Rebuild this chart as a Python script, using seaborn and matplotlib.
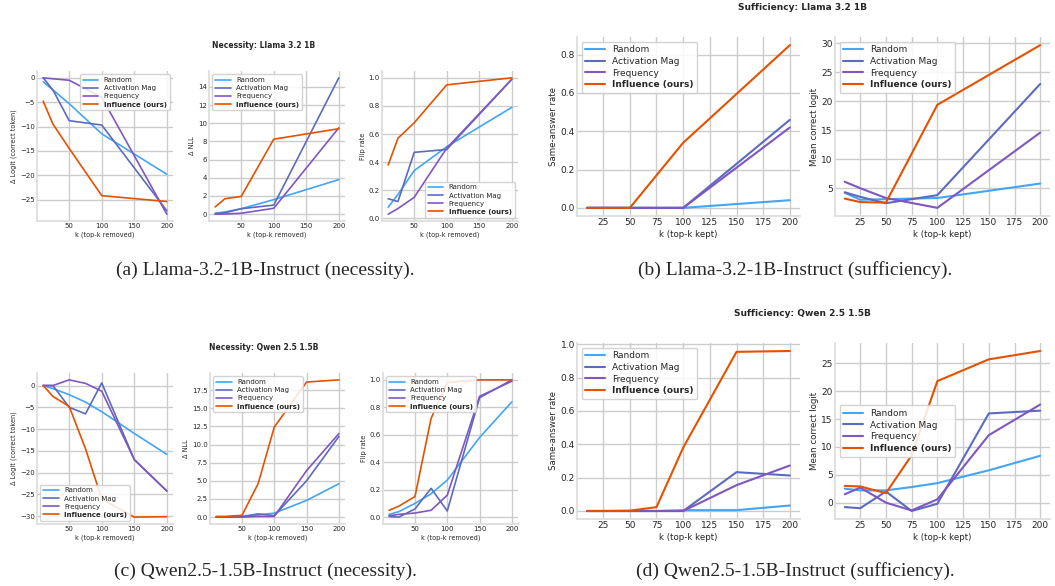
import matplotlib
matplotlib.use("Agg")
import matplotlib.pyplot as plt
import seaborn as sns

# --- data ---
methods = ["Random", "Activation Mag", "Frequency", "Influence (ours)"]
colors = ["#42a5f5", "#5c6bc0", "#7e57c2", "#e65100"]

k_llama = [10, 25, 50, 100, 200]
k_qwen = [10, 25, 50, 75, 100, 150, 200]

# Llama necessity
llama_nec_logit = [
    [-0.8, -2.5, -5.3, -11.5, -19.8],
    [0.0, -2.5, -8.8, -9.7, -27.3],
    [0.0, -0.2, -0.5, -4.0, -28.0],
    [-4.8, -9.5, -14.5, -24.2, -25.4],
]
llama_nec_nll = [
    [0.1, 0.25, 0.6, 1.6, 3.8],
    [0.05, 0.15, 0.6, 1.0, 15.0],
    [0.0, 0.02, 0.1, 0.65, 9.5],
    [0.8, 1.7, 1.95, 8.25, 9.4],
]
llama_nec_flip = [
    [0.08, 0.17, 0.34, 0.51, 0.79],
    [0.14, 0.12, 0.47, 0.49, 0.99],
    [0.03, 0.07, 0.15, 0.50, 0.99],
    [0.38, 0.57, 0.68, 0.95, 1.0],
]
# Llama sufficiency
llama_suf_same = [
    [0.0, 0.0, 0.0, 0.0, 0.04],
    [0.0, 0.0, 0.0, 0.0, 0.46],
    [0.0, 0.0, 0.0, 0.0, 0.42],
    [0.0, 0.0, 0.0, 0.34, 0.85],
]
llama_suf_logit = [
    [4.2, 3.0, 3.1, 3.3, 5.8],
    [4.3, 3.5, 2.4, 3.8, 23.0],
    [6.1, 5.0, 3.3, 1.6, 14.6],
    [3.2, 2.6, 2.5, 19.4, 29.7],
]
# Qwen necessity
qwen_nec_logit = [
    [0.0, -0.7, -2.1, -3.8, -6.0, -11.0, -15.8],
    [0.0, 0.0, -5.0, -6.5, 0.6, -17.0, -24.2],
    [0.0, 0.0, 1.3, 0.5, -1.3, -17.0, -24.2],
    [0.0, -2.5, -4.8, -14.5, -26.0, -30.2, -30.1],
]
qwen_nec_nll = [
    [0.0, 0.05, 0.15, 0.3, 0.55, 2.3, 4.6],
    [0.0, 0.0, 0.05, 0.45, 0.2, 5.0, 11.1],
    [0.0, 0.0, 0.0, 0.1, 0.1, 6.4, 11.5],
    [0.1, 0.1, 0.25, 4.6, 12.4, 18.6, 18.9],
]
qwen_nec_flip = [
    [0.02, 0.04, 0.10, 0.17, 0.27, 0.58, 0.84],
    [0.005, 0.0, 0.06, 0.21, 0.045, 0.87, 1.0],
    [0.01, 0.02, 0.03, 0.05, 0.16, 0.88, 0.99],
    [0.05, 0.08, 0.15, 0.72, 0.98, 1.0, 1.0],
]
# Qwen sufficiency
qwen_suf_same = [
    [0.0, 0.0, 0.0, 0.0, 0.005, 0.005, 0.033],
    [0.0, 0.0, 0.0, 0.0, 0.0, 0.233, 0.213],
    [0.0, 0.0, 0.0, 0.0, 0.0, 0.155, 0.273],
    [0.0, 0.0, 0.002, 0.023, 0.38, 0.955, 0.96],
]
qwen_suf_logit = [
    [2.5, 2.2, 2.2, 2.8, 3.5, 5.8, 8.4],
    [-0.8, -1.0, 2.0, -1.5, -0.2, 16.0, 16.5],
    [1.5, 2.7, 0.0, -1.4, 0.6, 12.1, 17.6],
    [3.0, 2.9, 1.7, 8.5, 21.8, 25.7, 27.2],
]

sns.set_theme(style="whitegrid")
plt.rcParams["font.family"] = ["DejaVu Sans"]

W, H = 1055, 586
fig = plt.figure(figsize=(W / 100, H / 100), dpi=100)


def ax_at(x0, y0, x1, y1):
    return fig.add_axes([x0 / W, 1 - y1 / H, (x1 - x0) / W, (y1 - y0) / H])


def panel(ax, k, series, ylabel, xlabel, loc, small=True, xticks=None, yticks=None):
    fs = 5 if small else 6.5
    lw = 1.2 if small else 1.5
    for name, col, vals in zip(methods, colors, series):
        sns.lineplot(x=k, y=vals, color=col, label=name, lw=lw, ax=ax)
    ax.set_xlabel(xlabel, fontsize=fs - 0.3, labelpad=2)
    ax.set_ylabel(ylabel, fontsize=fs - 0.3, labelpad=2)
    if xticks is not None:
        ax.set_xticks(xticks)
    if yticks is not None:
        ax.set_yticks(yticks)
    ax.tick_params(labelsize=fs, pad=1.5, length=0)
    sns.despine(ax=ax)
    for s in ["left", "bottom"]:
        ax.spines[s].set_color("#dddddd")
    leg = ax.legend(loc=loc, fontsize=fs, frameon=True, framealpha=0.85,
                    borderpad=0.4, labelspacing=0.3, handlelength=2.2)
    leg.get_texts()[-1].set_fontweight("bold")
    return ax


xl_rm = "k (top-k removed)"
xl_kp = "k (top-k kept)"
t_small = [50, 100, 150, 200]
t_big = [25, 50, 75, 100, 125, 150, 175, 200]

# (a) Llama necessity
a1 = panel(ax_at(37, 71, 173, 221), k_llama, llama_nec_logit, "Δ Logit (correct token)", xl_rm,
           "upper right", xticks=t_small)
a2 = panel(ax_at(209, 71, 345, 221), k_llama, llama_nec_nll, "Δ NLL", xl_rm,
           "upper left", xticks=t_small)
a3 = panel(ax_at(382, 71, 518, 221), k_llama, llama_nec_flip, "Flip rate", xl_rm,
           "lower right", xticks=t_small)
fig.text(264 / W, 1 - 45 / H, "Necessity: Llama 3.2 1B", ha="center", va="center",
         fontsize=5.5, fontweight="bold")

# (b) Llama sufficiency
b1 = panel(ax_at(577, 37, 800, 216), k_llama, llama_suf_same, "Same-answer rate", xl_kp,
           "upper left", small=False, xticks=t_big)
b2 = panel(ax_at(835, 37, 1050, 216), k_llama, llama_suf_logit, "Mean correct logit", xl_kp,
           "upper left", small=False, xticks=t_big)
fig.text(802 / W, 1 - 8 / H, "Sufficiency: Llama 3.2 1B", ha="center", va="center",
         fontsize=6.5, fontweight="bold")

# (c) Qwen necessity
c1 = panel(ax_at(37, 373, 173, 524), k_qwen, qwen_nec_logit, "Δ Logit (correct token)", xl_rm,
           "lower left", xticks=t_small)
c2 = panel(ax_at(210, 373, 345, 524), k_qwen, qwen_nec_nll, "Δ NLL", xl_rm,
           "upper left", xticks=t_small)
c3 = panel(ax_at(383, 373, 518, 524), k_qwen, qwen_nec_flip, "Flip rate", xl_rm,
           "upper left", xticks=t_small)
fig.text(264 / W, 1 - 348 / H, "Necessity: Qwen 2.5 1.5B", ha="center", va="center",
         fontsize=5.5, fontweight="bold")

# (d) Qwen sufficiency
d1 = panel(ax_at(577, 343, 800, 519), k_qwen, qwen_suf_same, "Same-answer rate", xl_kp,
           "upper left", small=False, xticks=t_big)
d2 = panel(ax_at(835, 343, 1050, 519), k_qwen, qwen_suf_logit, "Mean correct logit", xl_kp,
           "center left", small=False, xticks=t_big)
fig.text(802 / W, 1 - 313 / H, "Sufficiency: Qwen 2.5 1.5B", ha="center", va="center",
         fontsize=6.5, fontweight="bold")

# captions
cap = dict(ha="center", va="center", fontsize=14, family=["Liberation Serif"])
fig.text(265 / W, 1 - 270 / H, "(a) Llama-3.2-1B-Instruct (necessity).", **cap)
fig.text(795 / W, 1 - 270 / H, "(b) Llama-3.2-1B-Instruct (sufficiency).", **cap)
fig.text(265 / W, 1 - 571 / H, "(c) Qwen2.5-1.5B-Instruct (necessity).", **cap)
fig.text(795 / W, 1 - 571 / H, "(d) Qwen2.5-1.5B-Instruct (sufficiency).", **cap)

fig.savefig("out.png", dpi=100)
